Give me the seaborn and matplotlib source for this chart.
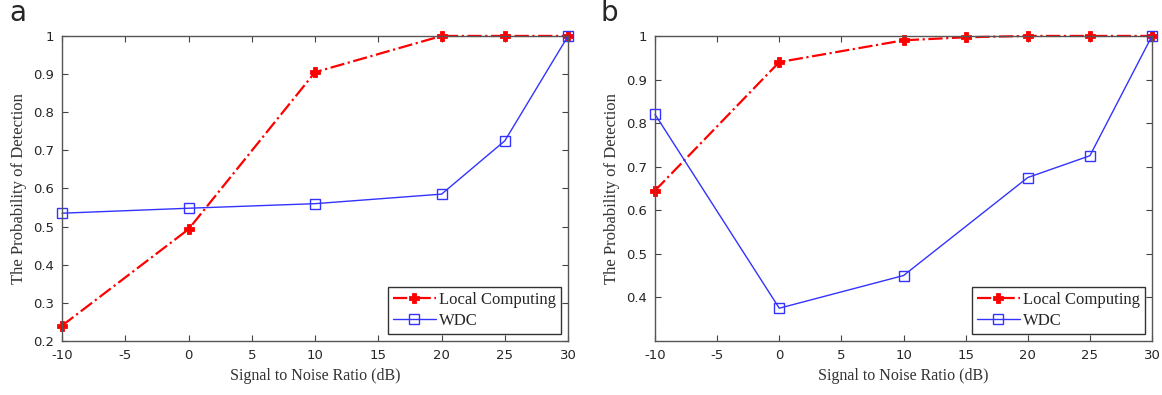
import pandas as pd
import matplotlib
matplotlib.use("Agg")
import matplotlib.pyplot as plt
import seaborn as sns

# SNR values (dB) and detection probabilities
snr_a_local = [-10, 0, 10, 20, 25, 30]
pd_a_local = [0.24, 0.493, 0.905, 1.0, 1.0, 1.0]
snr_a_wdc = [-10, 0, 10, 20, 25, 30]
pd_a_wdc = [0.535, 0.548, 0.56, 0.585, 0.725, 1.0]

snr_b_local = [-10, 0, 10, 15, 20, 25, 30]
pd_b_local = [0.645, 0.94, 0.99, 0.997, 1.0, 1.0, 1.0]
snr_b_wdc = [-10, 0, 10, 20, 25, 30]
pd_b_wdc = [0.82, 0.375, 0.45, 0.675, 0.725, 1.0]

xticks = [-10, -5, 0, 5, 10, 15, 20, 25, 30]

sns.set_style("ticks")
plt.rcParams['font.family'] = ['Liberation Serif', 'DejaVu Serif']

fig = plt.figure(figsize=(11.62, 3.95), dpi=100)
ax_a = fig.add_axes([0.0534, 0.137, 0.4355, 0.772])
ax_b = fig.add_axes([0.5637, 0.137, 0.4277, 0.772])

panels = [
    (ax_a, snr_a_local, pd_a_local, snr_a_wdc, pd_a_wdc, (0.2, 1.0),
     [0.2, 0.3, 0.4, 0.5, 0.6, 0.7, 0.8, 0.9, 1.0], "a"),
    (ax_b, snr_b_local, pd_b_local, snr_b_wdc, pd_b_wdc, (0.3, 1.0),
     [0.4, 0.5, 0.6, 0.7, 0.8, 0.9, 1.0], "b"),
]

for ax, xl, yl, xw, yw, ylim, yticks, tag in panels:
    df_l = pd.DataFrame({"snr": xl, "pd": yl})
    df_w = pd.DataFrame({"snr": xw, "pd": yw})
    sns.lineplot(data=df_l, x="snr", y="pd", ax=ax, color="red", linestyle="-.",
                 linewidth=1.6, marker="P", markersize=7, markeredgewidth=0.6,
                 markerfacecolor="red", markeredgecolor="red", clip_on=False,
                 label="Local Computing")
    sns.lineplot(data=df_w, x="snr", y="pd", ax=ax, color="#3333ff", linestyle="-",
                 linewidth=1.0, marker="s", markersize=7, markerfacecolor="none",
                 markeredgecolor="#3333ff", markeredgewidth=1.0, clip_on=False,
                 label="WDC")
    ax.set_xlim(-10, 30)
    ax.set_ylim(*ylim)
    ax.set_xticks(xticks)
    ax.set_yticks(yticks)
    ax.set_xticklabels([str(t) for t in xticks], family="DejaVu Sans", fontsize=9.5)
    ax.set_yticklabels([("%g" % t) for t in yticks], family="DejaVu Sans", fontsize=9.5)
    ax.tick_params(direction="in", top=True, right=True, length=4, color="#444444",
                   pad=6)
    for s in ax.spines.values():
        s.set_color("#555555")
        s.set_linewidth(1.0)
    ax.set_xlabel("Signal to Noise Ratio (dB)", fontsize=11.5, color="#333333")
    ax.set_ylabel("The Probability of Detection", fontsize=12, color="#333333")
    leg = ax.legend(loc="lower right", fontsize=12, frameon=True, fancybox=False,
                    borderpad=0.3, handlelength=2.6, labelspacing=0.3,
                    handletextpad=0.2, borderaxespad=0.4)
    leg.get_frame().set_edgecolor("black")
    leg.get_frame().set_linewidth(1.0)
    ax.text(-0.105 if tag == "a" else -0.11, 1.03, tag, transform=ax.transAxes,
            fontsize=20, family="DejaVu Sans", va="bottom", ha="left")

fig.savefig("out.png", dpi=100)
